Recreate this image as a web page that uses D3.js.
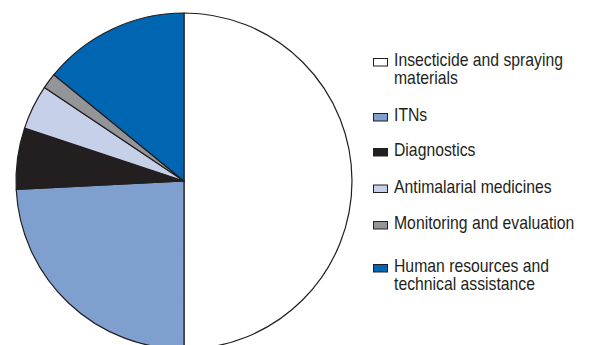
<!DOCTYPE html>
<html>
<head>
<meta charset="utf-8">
<script src="https://cdn.jsdelivr.net/npm/d3@7"></script>
<style>
  html, body { margin: 0; padding: 0; background: #fff; }
  svg { display: block; }
  .legend text { font-family: "Liberation Sans", Arial, sans-serif; font-size: 19px; fill: #231f20; }
</style>
</head>
<body>
<svg id="chart" width="592" height="345"></svg>
<script>
// spending shares (%)
var categories = ['Insecticide and spraying materials', 'ITNs', 'Diagnostics',
  'Antimalarial medicines', 'Monitoring and evaluation', 'Human resources and technical assistance']
var labelLines = [['Insecticide and spraying', 'materials'], ['ITNs'], ['Diagnostics'],
  ['Antimalarial medicines'], ['Monitoring and evaluation'], ['Human resources and', 'technical assistance']]
var values = [50, 24.2, 5.9, 4.3, 1.5, 14.1]
var colors = ['#ffffff', '#7f9fcf', '#231f20', '#c6d0e9', '#939598', '#0066b1']

var svg = d3.select('#chart')
var cx = 184, cy = 181, radius = 168

var pie = d3.pie().sort(null).value(function(d) { return d })
var arc = d3.arc().innerRadius(0).outerRadius(radius)
var color = d3.scaleOrdinal().domain(categories).range(colors)

svg.append('g')
  .attr('transform', 'translate(' + cx + ',' + cy + ')')
  .selectAll('path')
  .data(pie(values))
  .join('path')
  .attr('d', arc)
  .attr('fill', function(d, i) { return color(categories[i]) })
  .attr('stroke', '#231f20')
  .attr('stroke-width', 1.2)
  .attr('stroke-linejoin', 'round')

// legend
var baselines = [66, 121, 156, 192.5, 229, 272]
var lineHeight = 18.3
var squeeze = 0.83 // the original face is a condensed one

var legend = svg.append('g').attr('class', 'legend')
var item = legend.selectAll('g')
  .data(categories)
  .join('g')
  .attr('transform', function(d, i) { return 'translate(0,' + baselines[i] + ')' })

item.append('rect')
  .attr('x', 373.5)
  .attr('y', -7.5)
  .attr('width', 14)
  .attr('height', 7.5)
  .attr('fill', function(d) { return color(d) })
  .attr('stroke', '#231f20')
  .attr('stroke-width', 1)

item.append('text')
  .attr('transform', 'translate(394,0) scale(' + squeeze + ',1)')
  .selectAll('tspan')
  .data(function(d, i) { return labelLines[i] })
  .join('tspan')
  .attr('x', 0)
  .attr('dy', function(d, j) { return j === 0 ? 0 : lineHeight })
  .text(function(d) { return d })
</script>
</body>
</html>
